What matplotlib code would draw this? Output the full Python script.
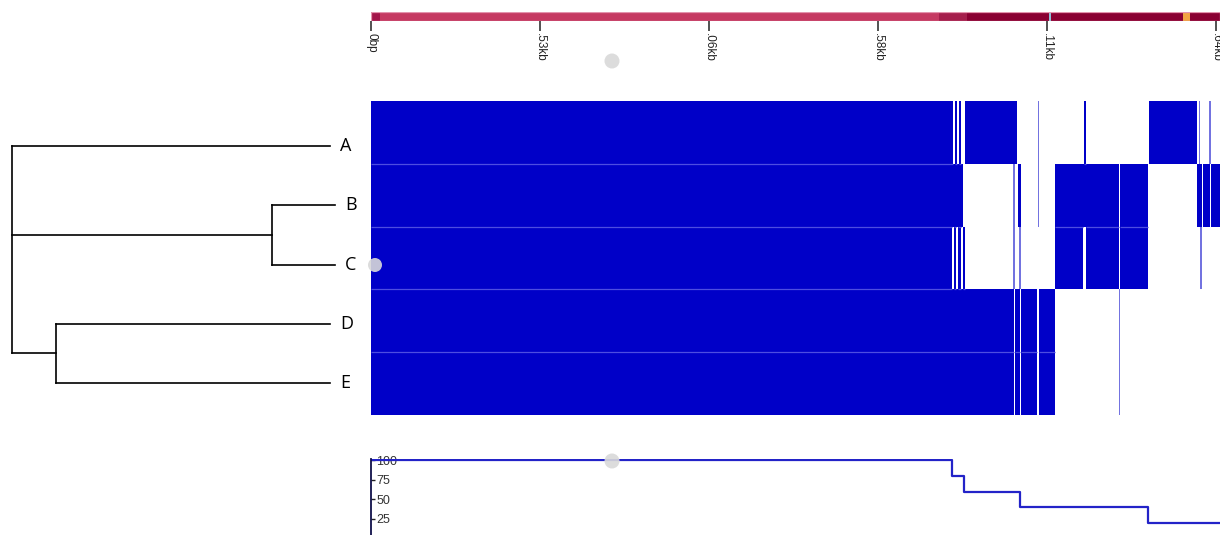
import matplotlib
matplotlib.use("Agg")
import matplotlib.pyplot as plt
from matplotlib.patches import Circle, Rectangle

W, H = 1220, 535

# genome ruler (kb)
tick_pos = [0, 5.53, 11.06, 16.58, 22.11, 27.64]
tick_labels = ["0bp", ".53kb", ".06kb", ".58kb", ".11kb", ".64kb"]
x_max = 27.78

# colour strip along the genome: (start kb, end kb, colour)
strip_segments = [
    (0.0, 0.3, "#a3154a"),
    (0.3, 18.6, "#c53a62"),
    (18.6, 19.5, "#a51f4c"),
    (19.5, 22.19, "#8a0032"),
    (22.19, 22.26, "#8fc0d8"),
    (22.26, 26.57, "#8a0032"),
    (26.57, 26.80, "#f2a442"),
    (26.80, 27.78, "#8a0032"),
]

# sample tree: (name, depth, children)
tree = ("root", 0.0, [
    ("A", 1.0, []),
    ("BC", 0.818, [("B", 1.016, []), ("C", 1.016, [])]),
    ("DE", 0.138, [("D", 1.0, []), ("E", 1.0, [])]),
])
samples = ["A", "B", "C", "D", "E"]

# covered intervals per sample (kb)
cover_a = [(0, 19.044), (19.110, 19.175), (19.241, 19.306), (19.437, 21.139),
           (21.815, 21.855), (23.340, 23.400), (25.457, 27.012),
           (27.085, 27.125), (27.435, 27.475)]
cover_b = [(0, 19.372), (21.020, 21.060), (21.161, 21.259), (21.815, 21.855),
           (22.382, 24.469), (24.502, 25.408), (27.018, 27.176),
           (27.209, 27.437), (27.470, 27.80)]
cover_c = [(0, 19.002), (19.061, 19.126), (19.192, 19.290), (19.355, 19.421),
           (21.020, 21.060), (21.215, 21.255), (22.382, 23.308),
           (23.396, 24.469), (24.502, 25.435), (27.140, 27.180)]
cover_d = [(0, 21.024), (21.073, 21.220), (21.269, 21.802), (21.867, 22.382),
           (24.465, 24.505)]
cover_e = [(0, 21.024), (21.073, 21.220), (21.269, 21.802), (21.867, 22.382),
           (24.465, 24.505)]
coverage = [cover_a, cover_b, cover_c, cover_d, cover_e]

# percent of samples covered
pct_x = [0, 19.01, 19.40, 21.24, 25.42, 27.78]
pct_y = [100, 80, 60, 40, 20, 20]

BLUE = "#0000c8"
THIN = 0.045

fig = plt.figure(figsize=(W / 100, H / 100), dpi=100)


def box(x0, y0, x1, y1):
    # pixel box (top-left origin) -> figure fraction rect
    return [x0 / W, 1 - y1 / H, (x1 - x0) / W, (y1 - y0) / H]


# --- top strip with ruler ---
ax_top = fig.add_axes(box(371, 12, W, 20.5))
for s, e, c in strip_segments:
    ax_top.broken_barh([(s, e - s)], (0, 1), facecolors=c, edgecolor="none")
ax_top.add_patch(Rectangle((0, 0), x_max, 1, fill=False, edgecolor="#e394ad", lw=0.9))
ax_top.set_xlim(0, x_max)
ax_top.set_ylim(0, 1)
ax_top.set_yticks([])
for sp in ax_top.spines.values():
    sp.set_visible(False)
ax_top.set_xticks(tick_pos)
ax_top.set_xticklabels(tick_labels, rotation=270, fontsize=8.5,
                       family="Liberation Sans", color="#222222")
ax_top.tick_params(axis="x", length=7, width=1.2, color="#333333", pad=2)

# --- dendrogram ---
ax_tree = fig.add_axes(box(12, 146, 330, 383))
ax_tree.set_xlim(0, 1)
ax_tree.set_ylim(len(samples) - 1, 0)
ax_tree.axis("off")


def draw_clade(node, parent_depth=None):
    name, depth, children = node
    if not children:
        y = samples.index(name)
        ax_tree.annotate(name, (depth, y), xytext=(10, 0), textcoords="offset pixels",
                         va="center", ha="left", fontsize=13, family="Open Sans",
                         annotation_clip=False)
    else:
        ys = [draw_clade(ch, depth) for ch in children]
        ax_tree.plot([depth, depth], [ys[0], ys[-1]], color="black", lw=1.2, clip_on=False)
        y = (ys[0] + ys[-1]) / 2 if len(children) == 2 else ys[len(ys) // 2]
    if parent_depth is not None:
        ax_tree.plot([parent_depth, depth], [y, y], color="black", lw=1.2, clip_on=False)
    return y


draw_clade(tree)

# --- coverage blocks ---
ax_map = fig.add_axes(box(371, 101, W, 415))
for i, spans in enumerate(coverage):
    for s, e in spans:
        thin = (e - s) < THIN
        ax_map.broken_barh([(s, e - s)], (i, 1), facecolors=BLUE,
                           edgecolor="none", alpha=0.55 if thin else 1.0)

# faint row separators where neighbouring samples are both covered
for i in range(1, len(coverage)):
    for s1, e1 in coverage[i - 1]:
        for s2, e2 in coverage[i]:
            s, e = max(s1, s2), min(e1, e2)
            if e - s > THIN:
                ax_map.hlines(i, s, e, color="#4d4de0", lw=0.9)

ax_map.set_xlim(0, x_max)
ax_map.set_ylim(len(samples), 0)
ax_map.axis("off")

# --- percent covered track ---
ax_pct = fig.add_axes(box(371, 459, W, H))
ax_pct.plot(pct_x, pct_y, drawstyle="steps-post", color="#2323c8", lw=1.6)
ax_pct.set_xlim(0, x_max)
ax_pct.set_ylim(4.5, 101.8)
for side in ["top", "right", "bottom"]:
    ax_pct.spines[side].set_visible(False)
ax_pct.spines["left"].set_color("#10104a")
ax_pct.spines["left"].set_linewidth(1.3)
ax_pct.set_xticks([])
ax_pct.set_yticks([25, 50, 75, 100])
ax_pct.tick_params(axis="y", direction="in", length=3, width=1, color="#222222",
                   pad=-4, labelsize=9, labelcolor="#333333")
for lbl in ax_pct.get_yticklabels():
    lbl.set_horizontalalignment("left")
    lbl.set_family("Liberation Sans")

# drag handles
for cx, cy, r in [(612, 61, 7.5), (375, 265, 7), (612, 461, 7.5)]:
    fig.patches.append(Circle((cx / 100, (H - cy) / 100), r / 100,
                              transform=fig.dpi_scale_trans, facecolor="#d9d9d9",
                              edgecolor="none", alpha=0.9, zorder=10))

fig.savefig("out.png", dpi=100)
